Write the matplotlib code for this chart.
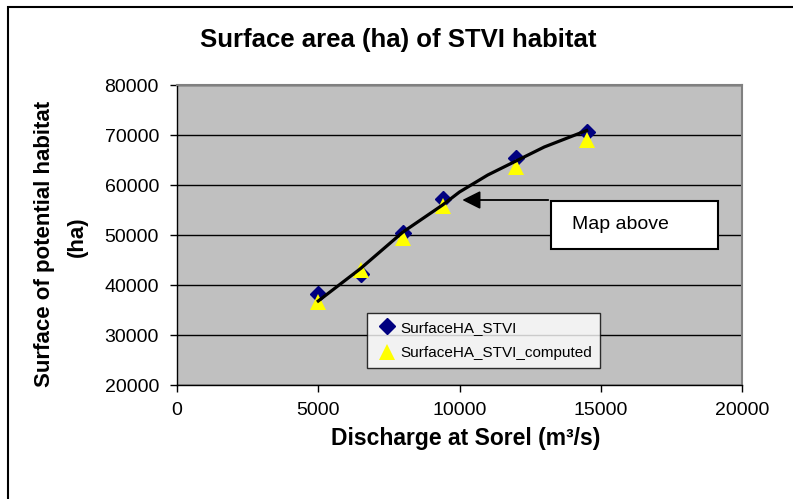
import matplotlib.pyplot as plt
from matplotlib.patches import Rectangle

# Observed and computed habitat surface (ha) vs discharge (m3/s)
discharge = [5000, 6500, 8000, 9400, 12000, 14500]
surface_obs = [38200, 42200, 50500, 57200, 65500, 70700]
surface_computed = [36600, 43100, 49400, 55800, 63600, 69100]

# Trend line
trend_x = [5000, 6500, 8000, 9400, 10000, 11000, 12000, 13000, 14500]
trend_y = [36800, 43300, 50600, 56000, 58600, 62000, 64800, 67600, 70900]

x_ticks = [0, 5000, 10000, 15000, 20000]
y_ticks = [20000, 30000, 40000, 50000, 60000, 70000, 80000]

plt.rcParams['font.family'] = ['Liberation Sans', 'DejaVu Sans']

fig = plt.figure(figsize=(7.93, 4.99), dpi=100)
ax = fig.add_axes([177 / 793, 1 - 385 / 499, 565 / 793, 300 / 499])

# outer chart border
fig.patches.append(Rectangle((8 / 793, -0.1), 1.2, 1 - 7 / 499 + 0.1,
                             transform=fig.transFigure, fill=False,
                             edgecolor='black', linewidth=1.5))

ax.set_facecolor('#C0C0C0')
ax.set_xlim(0, 20000)
ax.set_ylim(20000, 80000)
ax.set_xticks(x_ticks)
ax.set_yticks(y_ticks)
ax.tick_params(axis='both', labelsize=14, length=5, width=1, direction='out')
ax.tick_params(axis='x', pad=7)
ax.tick_params(axis='y', pad=8)
ax.yaxis.grid(True, color='black', linewidth=1)
ax.set_axisbelow(True)
for side in ['top', 'right']:
    ax.spines[side].set_color('#808080')
    ax.spines[side].set_linewidth(1.5)
for side in ['left', 'bottom']:
    ax.spines[side].set_linewidth(1)

ax.plot(discharge, surface_obs, linestyle='none', marker='D', markersize=8,
        color='#000080', label='SurfaceHA_STVI', zorder=3)
ax.plot(discharge, surface_computed, linestyle='none', marker='^', markersize=11,
        color='#FFFF00', markeredgewidth=0, label='SurfaceHA_STVI_computed', zorder=4)
ax.plot(trend_x, trend_y, color='black', linewidth=2.3, zorder=5)

# annotation box with arrow
ax.annotate('', xy=(10000, 57000), xytext=(13240, 57000),
            arrowprops=dict(arrowstyle='-|>,head_length=1.1,head_width=0.55',
                            color='black', linewidth=1.3), zorder=6)
ax.add_patch(Rectangle((13240, 47200), 5910, 9600, facecolor='white',
                       edgecolor='black', linewidth=1.5, zorder=7))
ax.text(14000, 52100, 'Map above', fontsize=14, va='center', ha='left', zorder=8)

leg = ax.legend(loc='upper left', bbox_to_anchor=(367 / 793, 1 - 313 / 499),
                bbox_transform=fig.transFigure, fontsize=11, frameon=True,
                fancybox=False, borderpad=0.5, labelspacing=0.75,
                handletextpad=0.1, handlelength=1.6, borderaxespad=0)
leg.get_frame().set_edgecolor('black')
leg.get_frame().set_linewidth(1)

fig.text(398 / 793, 1 - 40 / 499, 'Surface area (ha) of STVI habitat',
         fontsize=18.5, fontweight='bold', ha='center', va='center')
fig.text(466 / 793, 1 - 438 / 499, 'Discharge at Sorel (m³/s)',
         fontsize=16.5, fontweight='bold', ha='center', va='center')
fig.text(45 / 793, 1 - 244 / 499, 'Surface of potential habitat',
         fontsize=16, fontweight='bold', rotation=90, ha='center', va='center')
fig.text(77 / 793, 1 - 237 / 499, '(ha)',
         fontsize=16, fontweight='bold', rotation=90, ha='center', va='center')

plt.savefig('out.png', dpi=100)
